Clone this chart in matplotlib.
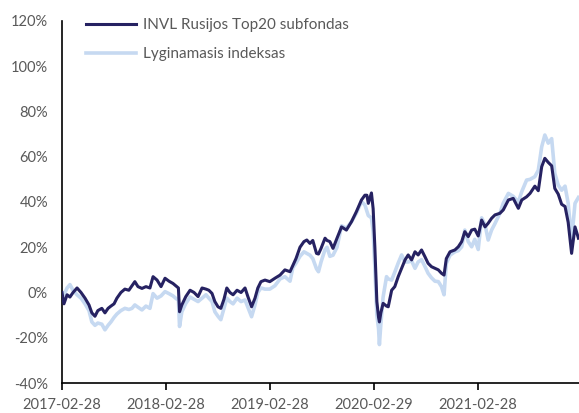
"""
INVL Rusijos Top20 subfondas vs benchmark, cumulative return since 2017-02-28
"""

import matplotlib
matplotlib.use('Agg')
import matplotlib.pyplot as plt
import matplotlib.dates as mdates
from matplotlib.ticker import FuncFormatter
import pandas as pd

# days since the start date
start = pd.Timestamp('2017-02-28')
day_offset = [0, 7, 18, 28, 39, 53, 67, 81, 95, 105, 116, 126, 140, 151, 162, 172,
              183, 193, 207, 221, 235, 246, 256, 267, 281, 295, 309, 320, 334, 348,
              362, 376, 390, 404, 409, 413, 421, 435, 450, 464, 478, 492, 506, 516,
              527, 537, 548, 558, 569, 579, 590, 601, 615, 629, 643, 653, 666, 678,
              688, 699, 713, 730, 748, 766, 783, 801, 811, 822, 836, 850, 860, 871,
              881, 894, 901, 910, 924, 931, 941, 952, 966, 982, 999, 1017, 1034,
              1052, 1064, 1071, 1076, 1087, 1093, 1099, 1106, 1112, 1115, 1120,
              1128, 1140, 1146, 1158, 1169, 1181, 1193, 1205, 1216, 1228, 1240,
              1251, 1263, 1275, 1286, 1298, 1310, 1322, 1333, 1342, 1350, 1363,
              1380, 1392, 1404, 1415, 1427, 1439, 1450, 1462, 1474, 1486, 1497,
              1509, 1521, 1538, 1550, 1568, 1585, 1603, 1615, 1632, 1644, 1661,
              1673, 1685, 1696, 1708, 1720, 1731, 1743, 1755, 1767, 1778, 1790,
              1802, 1814]

# cumulative return, %
fund = [0, -5, -1, -2, 0, 2, 0, -2.5, -5.5, -9, -10.5, -8, -7, -9, -7, -6,
        -5, -2.5, 0, 1.5, 1, 3, 4.8, 2.6, 1.8, 2.6, 2, 7, 5.5, 2.6,
        6.3, 5, 4, 2.5, 2, -8.5, -5.5, -1.8, 1, 0, -1.8, 2, 1.5, 1,
        -0.4, -4, -6.3, -7, -3, 2, 0, -1, 1, 0, 2, -1.8, -6.3, -2.5,
        2, 4.8, 5.5, 4.8, 6.3, 7.7, 10, 9.2, 12, 15, 20, 22.5, 23.2, 21.7,
        23, 17.3, 17, 19.5, 24, 23, 22.5, 19.5, 24, 29, 27.6, 31.3, 35.7,
        40.9, 43, 43, 39.4, 44, 37, 20, -4, -11, -13, -9,
        -4.8, -6, -6.3, 1, 2.6, 7, 10.7, 14.4, 16.6, 14.4, 18,
        16.6, 18.8, 15.8, 12.9, 11.4, 10.7, 10, 8.5, 7.7, 15, 18,
        18.8, 20.2, 22.5, 26.9, 24.7, 27.6, 28, 25, 32, 29, 30.6,
        32.8, 34.3, 35, 36.5, 40.9, 41.6, 37.2, 40.9, 42.3, 43.8, 47,
        45, 55.6, 59.3, 57.5, 56, 46, 43.5, 39, 38, 31, 17.3,
        29, 24]

index = [0, -1, 2, 3.5, 1, -1, -2.5, -5, -8, -13, -14.5, -13.5, -14, -16.5, -14.5, -13,
         -11, -9.5, -8, -7, -7.5, -7, -5.5, -6.5, -7.7, -6, -7, -0.5, -2.5, -1.5,
         0.4, -0.5, -1.5, -3, -3, -15, -8.5, -4.8, -2, -3, -4, -2.5, -1, -2.5,
         -4, -8.5, -10.5, -12, -7, -2.5, -4, -5, -2.5, -4, -3.3, -6.5, -10.7, -5.5,
         0, 2, 1.5, 1.5, 3, 6, 7, 5, 11, 13, 16, 18, 17.3, 16.5,
         15, 10.5, 9.2, 13.5, 19, 20, 16, 16.5, 20, 29.5, 28.4, 31.3, 35,
         40.2, 38.7, 36, 34, 33, 27, 11, -10, -16, -23, -14,
         -2, 7, 6, 5.5, 9, 13, 16.6, 13.5, 13.5, 14, 10.7,
         13.5, 14.5, 11.5, 8.5, 6.5, 5, 4.8, 2.6, -1, 12.9, 16.5,
         18, 18.5, 20.2, 27.6, 22.5, 20.2, 23.5, 19, 33, 30, 23.2,
         27.6, 30.5, 35, 39.5, 43.8, 42.5, 40, 44.6, 49.7, 50, 51.2,
         54, 64.4, 69.6, 66, 68, 52.7, 47.5, 45.2, 47, 39.4, 23.2,
         39.4, 42]

tick_dates = ['2017-02-28', '2018-02-28', '2019-02-28', '2020-02-29', '2021-02-28']

dates = start + pd.to_timedelta(day_offset, unit='D')

plt.rcParams['font.family'] = ['Lato', 'DejaVu Sans']
grey = '#595959'

fig = plt.figure(figsize=(5.79, 4.13), dpi=100)
ax = fig.add_axes([0.107, 0.0726, 0.893, 0.8766])

ax.plot(dates, index, color='#c6d9f1', lw=2.6, label='Lyginamasis indeksas', zorder=2)
ax.plot(dates, fund, color='#262262', lw=2.2, label='INVL Rusijos Top20 subfondas', zorder=3)

ax.set_ylim(-40, 120)
ax.set_yticks(range(-40, 121, 20))
ax.yaxis.set_major_formatter(FuncFormatter(lambda v, p: f'{v:.0f}%'))
ax.set_xlim(start, start + pd.Timedelta(days=1816))
ax.set_xticks(pd.to_datetime(tick_dates))
ax.xaxis.set_major_formatter(mdates.DateFormatter('%Y-%m-%d'))

for side in ['top', 'right']:
    ax.spines[side].set_visible(False)
for side in ['left', 'bottom']:
    ax.spines[side].set_color('black')
    ax.spines[side].set_linewidth(1.2)

ax.tick_params(axis='y', length=0, pad=10, labelsize=10.5, labelcolor=grey)
ax.tick_params(axis='x', length=5, width=1.2, direction='out', pad=6,
               labelsize=10.5, labelcolor=grey)

handles, labels = ax.get_legend_handles_labels()
leg = ax.legend(handles[::-1], labels[::-1], loc='upper left', bbox_to_anchor=(0.02, 1.045),
                frameon=False, handlelength=3.3, handletextpad=0.4, labelspacing=0.95,
                fontsize=11)
for t in leg.get_texts():
    t.set_color(grey)

fig.savefig('out.png', dpi=100)
